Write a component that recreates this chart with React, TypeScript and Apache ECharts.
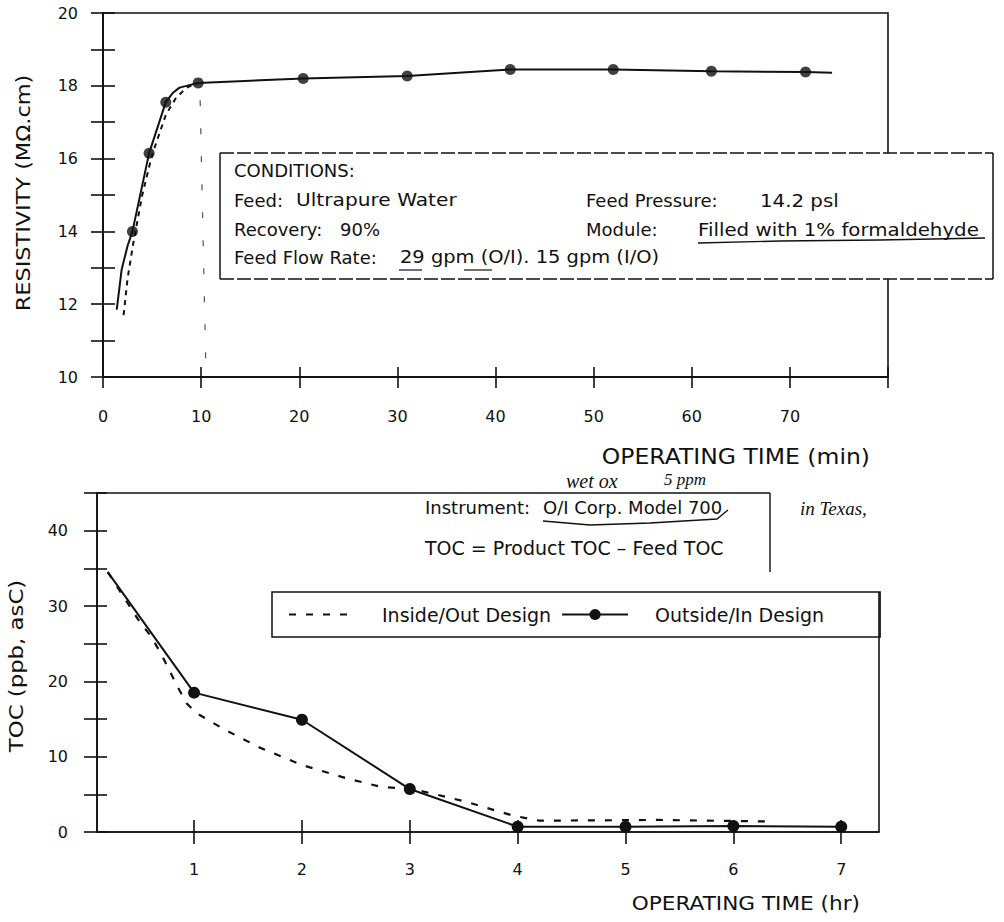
import React, { useEffect, useRef } from "react";
import * as echarts from "echarts";

// ---- Top chart: resistivity vs operating time (min) ----
const topSolidTime = [1.4, 1.9, 2.5, 3.0, 4.7, 6.4, 7.1, 7.8, 9.7, 20.4, 31, 41.5, 52, 62, 71.6, 74.3];
const topSolidRes = [11.85, 12.95, 13.6, 14.0, 16.15, 17.55, 17.8, 17.95, 18.08, 18.2, 18.27, 18.45, 18.45, 18.4, 18.38, 18.36];
const topMarkTime = [3.0, 4.7, 6.4, 9.7, 20.4, 31, 41.5, 52, 62, 71.6];
const topMarkRes = [14.0, 16.15, 17.55, 18.08, 18.2, 18.27, 18.45, 18.45, 18.4, 18.38];
const topDashTime = [2.1, 2.5, 3.1, 4.0, 5.0, 6.4, 7.4, 8.5, 9.7];
const topDashRes = [11.7, 12.7, 13.7, 15.0, 16.1, 17.2, 17.65, 17.95, 18.08];
const topDropTime = [9.9, 10.5];
const topDropRes = [17.6, 10.0];
const topXTicks = [0, 10, 20, 30, 40, 50, 60, 70];

// ---- Bottom chart: TOC vs operating time (hr) ----
const botSolidTime = [0.2, 1, 2, 3, 4, 5, 6, 7];
const botSolidToc = [34.5, 18.5, 14.9, 5.7, 0.7, 0.7, 0.8, 0.7];
const botDashTime = [0.2, 0.5, 0.6, 0.7, 0.85, 0.93, 1.02, 1.27, 1.61, 2.0, 2.42, 2.73, 3.03, 3.5, 3.95, 4.2, 5.3, 6.3];
const botDashToc = [34.5, 27.8, 26.0, 23.5, 19.2, 17.1, 15.8, 13.7, 11.2, 8.9, 7.1, 6.0, 5.7, 4.1, 2.2, 1.5, 1.6, 1.4];
const botXTicks = [1, 2, 3, 4, 5, 6, 7];

const FONT = "DejaVu Sans";
const HAND = "Liberation Serif";
const INK = "#111";

const zip = (a: number[], b: number[]) => a.map((v, i) => [v, b[i]]);

const txt = (text: string, x: number, y: number, size: number, extra: any = {}) => ({
  type: "text", x, y, z: 52, ...extra,
  style: { text, fill: INK, fontSize: size, fontFamily: FONT, textVerticalAlign: "middle", ...(extra.style || {}) },
});

export default function App() {
  const ref = useRef<HTMLDivElement>(null);
  useEffect(() => {
    if (!ref.current) return;
    const chart = echarts.init(ref.current, null, { renderer: "svg" });
    const axisLine = { show: true, onZero: false, lineStyle: { color: INK, width: 1.6 } };
    const tickLine = { color: INK, width: 1.6 };
    const labelStyle = { color: INK, fontSize: 16, fontFamily: FONT };
    const option: any = {
      animation: false,
      backgroundColor: "#fff",
      textStyle: { fontFamily: FONT, color: INK },
      grid: [
        { left: 103, top: 13, right: 116, bottom: 545, show: true, borderColor: INK, borderWidth: 1.6, backgroundColor: "transparent" },
        { left: 97, top: 493, right: 125, bottom: 90, show: false },
      ],
      xAxis: [
        {
          gridIndex: 0, type: "value", position: "bottom", min: 0, max: 80, interval: 10,
          axisLine, splitLine: { show: false },
          axisTick: { show: true, inside: false, length: 11, lineStyle: tickLine },
          axisLabel: { ...labelStyle, margin: 31, formatter: (v: number) => (topXTicks.includes(v) ? String(v) : "") },
        },
        {
          gridIndex: 0, type: "value", position: "bottom", offset: 0, min: 0, max: 80, interval: 10,
          axisLine, splitLine: { show: false }, axisLabel: { show: false },
          axisTick: { show: true, inside: true, length: 10, lineStyle: tickLine },
        },
        {
          gridIndex: 1, type: "value", position: "bottom", min: 0.1, max: 7.35,
          axisLine, splitLine: { show: false },
          axisTick: { show: true, inside: false, length: 12, customValues: botXTicks, lineStyle: tickLine },
          axisLabel: { ...labelStyle, margin: 29, customValues: botXTicks },
        },
        {
          gridIndex: 1, type: "value", position: "bottom", offset: 0, min: 0.1, max: 7.35,
          axisLine, splitLine: { show: false },
          axisLabel: { show: false, customValues: botXTicks },
          axisTick: { show: true, inside: true, length: 12, customValues: botXTicks, lineStyle: tickLine },
        },
      ],
      yAxis: [
        {
          gridIndex: 0, type: "value", position: "left", min: 10, max: 20, interval: 1,
          axisLine, splitLine: { show: false },
          axisTick: { show: true, inside: false, length: 12, lineStyle: tickLine },
          axisLabel: { ...labelStyle, margin: 25, formatter: (v: number) => (v % 2 === 0 ? String(v) : "") },
        },
        {
          gridIndex: 0, type: "value", position: "left", offset: 0, min: 10, max: 20, interval: 1,
          axisLine, splitLine: { show: false }, axisLabel: { show: false },
          axisTick: { show: true, inside: true, length: 12, lineStyle: tickLine },
        },
        {
          gridIndex: 1, type: "value", position: "left", min: 0, max: 45, interval: 5,
          axisLine, splitLine: { show: false },
          axisTick: { show: true, inside: false, length: 13, lineStyle: tickLine },
          axisLabel: { ...labelStyle, margin: 29, formatter: (v: number) => (v % 10 === 0 ? String(v) : "") },
        },
        {
          gridIndex: 1, type: "value", position: "left", offset: 0, min: 0, max: 45, interval: 5,
          axisLine, splitLine: { show: false }, axisLabel: { show: false },
          axisTick: { show: true, inside: true, length: 10, lineStyle: tickLine },
        },
      ],
      legend: {
        data: [
          { name: "Inside/Out Design", itemStyle: { opacity: 0 } },
          { name: "Outside/In Design" },
        ],
        left: 272, top: 592, orient: "horizontal",
        padding: [13, 56, 13, 16],
        itemWidth: 66, itemHeight: 14, itemGap: 10,
        borderColor: INK, borderWidth: 1.5,
        textStyle: { fontSize: 19, color: INK, fontFamily: FONT, padding: [0, 0, 0, 22] },
      },
      series: [
        {
          name: "topSolid", type: "line", xAxisIndex: 0, yAxisIndex: 0,
          data: zip(topSolidTime, topSolidRes), showSymbol: false, symbol: "none",
          lineStyle: { color: INK, width: 2 }, silent: true,
        },
        {
          name: "topMarkers", type: "scatter", xAxisIndex: 0, yAxisIndex: 0,
          data: zip(topMarkTime, topMarkRes), symbol: "circle", symbolSize: 11,
          itemStyle: { color: INK }, silent: true,
        },
        {
          name: "topDashed", type: "line", xAxisIndex: 0, yAxisIndex: 0,
          data: zip(topDashTime, topDashRes), showSymbol: false, symbol: "none",
          lineStyle: { color: INK, width: 2, type: [5, 5] }, silent: true,
        },
        {
          name: "topDrop", type: "line", xAxisIndex: 0, yAxisIndex: 0,
          data: zip(topDropTime, topDropRes), showSymbol: false, symbol: "none",
          lineStyle: { color: "#555", width: 1.2, type: [6, 22] }, silent: true,
        },
        // empty series binding the tick-only twin axes so they get drawn
        { name: "topTwin", type: "line", xAxisIndex: 1, yAxisIndex: 1, data: [], silent: true },
        { name: "botTwin", type: "line", xAxisIndex: 3, yAxisIndex: 3, data: [], silent: true },
        {
          name: "Inside/Out Design", type: "line", xAxisIndex: 2, yAxisIndex: 2,
          data: zip(botDashTime, botDashToc), showSymbol: false, symbol: "none",
          lineStyle: { color: INK, width: 2.2, type: [7, 10] }, itemStyle: { color: INK }, silent: true,
        },
        {
          name: "Outside/In Design", type: "line", xAxisIndex: 2, yAxisIndex: 2,
          data: zip(botSolidTime, botSolidToc).map((p, i) => (i === 0 ? { value: p, symbol: "none" } : p)),
          symbol: "circle", symbolSize: 12, showSymbol: true,
          lineStyle: { color: INK, width: 2 }, itemStyle: { color: INK }, silent: true,
        },
      ],
      graphic: [
        // Conditions box
        { type: "rect", shape: { x: 220, y: 153, width: 773, height: 126 }, style: { fill: "#fff", stroke: null }, z: 50 },
        { type: "line", shape: { x1: 220, y1: 153, x2: 220, y2: 279 }, style: { stroke: INK, lineWidth: 1.5 }, z: 51 },
        { type: "line", shape: { x1: 993, y1: 153, x2: 993, y2: 279 }, style: { stroke: INK, lineWidth: 1.5 }, z: 51 },
        { type: "line", shape: { x1: 220, y1: 153, x2: 993, y2: 153 }, style: { stroke: INK, lineWidth: 1.5, lineDash: [14, 3] }, z: 51 },
        { type: "line", shape: { x1: 220, y1: 279, x2: 993, y2: 279 }, style: { stroke: INK, lineWidth: 1.5, lineDash: [14, 3] }, z: 51 },
        txt("CONDITIONS:", 234, 170, 18),
        txt("Feed:", 234, 200, 18),
        txt("Ultrapure Water", 296, 200, 18, { scaleX: 1.12 }),
        txt("Feed Pressure:", 586, 200, 18),
        txt("14.2 psl", 760, 200, 18, { scaleX: 1.1 }),
        txt("Recovery:", 234, 229, 18),
        txt("90%", 340, 229, 18),
        txt("Module:", 586, 229, 18),
        txt("Filled with 1% formaldehyde", 698, 229, 18, { scaleX: 1.1 }),
        txt("Feed Flow Rate:", 234, 257, 18),
        txt("29 gpm (O/I). 15 gpm (I/O)", 400, 257, 18, { scaleX: 1.08 }),
        { type: "polyline", shape: { points: [[698, 243], [780, 241], [880, 240], [985, 238]] }, style: { stroke: INK, lineWidth: 1.4, fill: null }, z: 52 },
        { type: "line", shape: { x1: 399, y1: 270, x2: 422, y2: 270 }, style: { stroke: INK, lineWidth: 1.2 }, z: 52 },
        { type: "line", shape: { x1: 464, y1: 270, x2: 492, y2: 270 }, style: { stroke: INK, lineWidth: 1.2 }, z: 52 },
        // Axis titles
        txt("RESISTIVITY (MΩ.cm)", 23, 193, 20, { rotation: Math.PI / 2, scaleX: 1.12, style: { textAlign: "center" } }),
        txt("TOC (ppb, asC)", 16, 666, 20, { rotation: Math.PI / 2, scaleX: 1.14, style: { textAlign: "center" } }),
        txt("OPERATING TIME (min)", 870, 456, 21, { scaleX: 1.12, style: { textAlign: "right" } }),
        txt("OPERATING TIME (hr)", 860, 903, 20, { scaleX: 1.08, style: { textAlign: "right" } }),
        // Bottom frame pieces (top edge interrupted by the pasted annotation)
        { type: "line", shape: { x1: 97, y1: 493, x2: 770, y2: 493 }, style: { stroke: INK, lineWidth: 1.6 } },
        { type: "line", shape: { x1: 770, y1: 493, x2: 770, y2: 572 }, style: { stroke: INK, lineWidth: 1.4 } },
        { type: "line", shape: { x1: 879, y1: 592, x2: 879, y2: 832 }, style: { stroke: INK, lineWidth: 1.6 } },
        // Bottom annotations
        txt("Instrument:", 425, 507, 18),
        txt("O/I Corp. Model 700", 543, 507, 18),
        { type: "polyline", shape: { points: [[543, 521], [590, 525], [650, 523], [717, 519], [728, 510]] }, style: { stroke: INK, lineWidth: 1.3, fill: null } },
        txt("TOC = Product TOC – Feed TOC", 425, 548, 19),
        txt("wet ox", 566, 481, 20, { style: { fontStyle: "italic", fontFamily: HAND } }),
        txt("5 ppm", 664, 479, 17, { style: { fontStyle: "italic", fontFamily: HAND } }),
        txt("in Texas,", 800, 508, 19, { style: { fontStyle: "italic", fontFamily: HAND } }),
      ],
    };
    chart.setOption(option);
    return () => chart.dispose();
  }, []);
  return <div ref={ref} style={{ position: "fixed", left: 0, top: 0, width: 1004, height: 922, background: "#fff" }} />;
}
